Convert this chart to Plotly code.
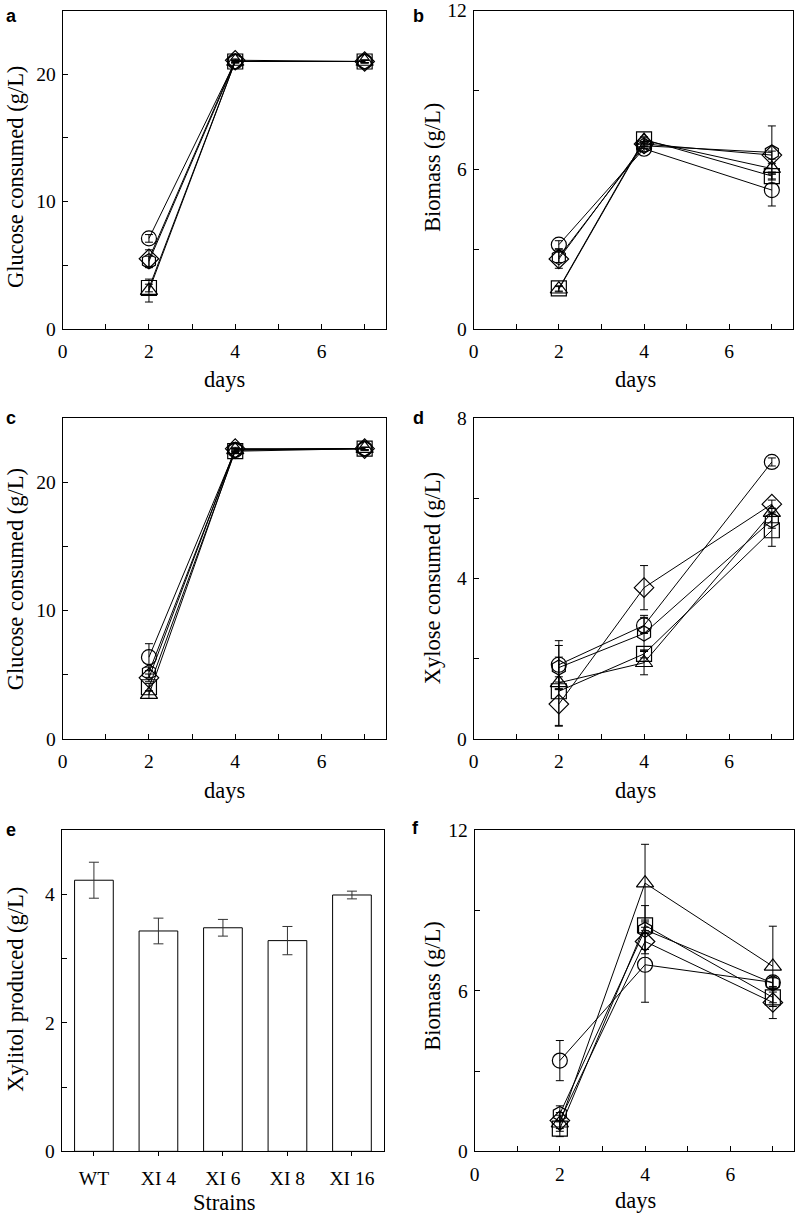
import plotly.graph_objects as go
from plotly.subplots import make_subplots

W, H = 797, 1216
# the photographed page shows content slightly inset/scaled; map reference pixels to page pixels
SX, OX = 0.989, 5.6
SY, OY = 0.982, 9.5

days = [2, 4, 7]
series_names = ["WT", "XI 4", "XI 6", "XI 8", "XI 16"]
symbols = ["circle-open", "hexagon-open", "square-open", "diamond-open", "triangle-up-open"]

# Panel a: glucose consumed (g/L)
a_vals = [[7.1, 21.0, 21.0], [5.3, 21.0, 21.0], [3.2, 21.0, 21.0], [5.5, 21.1, 21.0], [3.0, 21.0, 21.0]]
a_err = [[0.3, 0.1, 0.1], [0.4, 0.1, 0.1], [0.3, 0.1, 0.1], [0.7, 0.1, 0.1], [0.9, 0.1, 0.1]]
# Panel b: biomass (g/L)
b_vals = [[3.17, 6.79, 5.23], [2.70, 6.90, 6.65], [1.52, 7.14, 5.76], [2.63, 6.97, 6.55], [1.49, 7.10, 6.04]]
b_err = [[0.15, 0.1, 0.6], [0.2, 0.1, 1.0], [0.1, 0.1, 0.15], [0.35, 0.1, 0.15], [0.1, 0.1, 0.2]]
# Panel c: glucose consumed (g/L)
c_vals = [[6.37, 22.5, 22.6], [5.2, 22.5, 22.6], [4.03, 22.4, 22.6], [4.76, 22.6, 22.6], [3.46, 22.5, 22.6]]
c_err = [[1.05, 0.1, 0.1], [0.4, 0.1, 0.1], [0.3, 0.1, 0.1], [0.3, 0.1, 0.1], [0.3, 0.1, 0.1]]
# Panel d: xylose consumed (g/L)
d_vals = [[1.85, 2.83, 6.90], [1.78, 2.63, 5.45], [1.19, 2.12, 5.20], [0.87, 3.77, 5.85], [1.40, 1.90, 5.64]]
d_err = [[0.6, 0.2, 0.1], [0.55, 0.45, 0.2], [0.85, 0.1, 0.4], [0.55, 0.55, 0.1], [0.15, 0.3, 0.1]]
# Panel e: xylitol produced (g/L)
strains = ["WT", "XI 4", "XI 6", "XI 8", "XI 16"]
e_vals = [4.22, 3.43, 3.48, 3.28, 3.99]
e_err = [0.28, 0.20, 0.13, 0.22, 0.06]
# Panel f: biomass (g/L)
f_vals = [[3.39, 6.97, 6.31], [1.40, 8.28, 6.28], [0.85, 8.44, 5.75], [1.15, 7.84, 5.56], [1.05, 10.02, 6.91]]
f_err = [[0.75, 1.4, 0.2], [0.3, 0.9, 0.2], [0.3, 0.2, 0.2], [0.3, 0.3, 0.6], [0.3, 1.45, 1.5]]

# plot boxes in reference pixels [x0, x1, y_top, y_bottom]
boxes = [
    (63, 385, 7, 328), (472, 790, 7, 328),
    (63, 385, 417, 738), (472, 790, 417, 738),
    (62, 383, 829, 1150), (473, 791, 829, 1150),
]

def clamp(v, lo=0.0, hi=1.0):
    return max(lo, min(hi, v))

def px(x):
    return clamp(((x - OX) / SX) / W)

def py(y):
    return clamp(1 - ((y - OY) / SY) / H, 0.0, 0.9995)

fig = make_subplots(rows=3, cols=2)

serif = "Liberation Serif"
line_panels = [(a_vals, a_err, 1, 1), (b_vals, b_err, 1, 2), (c_vals, c_err, 2, 1),
               (d_vals, d_err, 2, 2), (f_vals, f_err, 3, 2)]
for vals, errs, r, c in line_panels:
    for name, sym, v, e in zip(series_names, symbols, vals, errs):
        fig.add_trace(go.Scatter(
            x=days, y=v, name=name, mode="lines+markers",
            line=dict(color="black", width=1),
            marker=dict(symbol=sym, size=15, color="black", line=dict(width=1.2, color="black")),
            error_y=dict(type="data", array=e, visible=True, color="black", thickness=1, width=4),
            showlegend=False), row=r, col=c)

fig.add_trace(go.Bar(
    x=strains, y=e_vals, width=0.6,
    marker=dict(color="white", line=dict(color="black", width=1)),
    error_y=dict(type="data", array=e_err, visible=True, color="#333", thickness=1, width=5),
    showlegend=False), row=3, col=1)

axis_common = dict(showline=True, linecolor="black", linewidth=1, mirror=True,
                   showgrid=False, zeroline=False,
                   tickfont=dict(family=serif, size=19.5, color="black"))

yranges = [(0, 25, 10, 5), (0, 12, 6, 3), (0, 25, 10, 5), (0, 8, 4, 2), (0, 5, 2, 1), (0, 12, 6, 3)]
for i, b in enumerate(boxes):
    n = "" if i == 0 else str(i + 1)
    y0, y1, dt, mdt = yranges[i]
    fig.layout["xaxis" + n].update(domain=[px(b[0]), px(b[1])], **axis_common)
    fig.layout["yaxis" + n].update(domain=[py(b[3]), py(b[2])], range=[y0, y1], dtick=dt, tick0=0,
                                   ticks="inside", ticklen=5, tickcolor="black",
                                   ticklabelstandoff=2,
                                   minor=dict(dtick=mdt, ticks="inside", ticklen=5, tickcolor="black"),
                                   **axis_common)
    if i != 4:
        fig.layout["xaxis" + n].update(range=[0, 7.5], dtick=2, tick0=0, ticks="inside", ticklen=5,
                                       tickcolor="black", ticklabelstandoff=5,
                                       minor=dict(dtick=1, ticks="inside", ticklen=5, tickcolor="black"))
    else:
        fig.layout["xaxis" + n].update(range=[-0.5, 4.5], ticks="outside", ticklen=4,
                                       tickcolor="black", ticklabelstandoff=5)

ann = []
letters = [("a", 12, 15), ("b", 417, 15), ("c", 12, 417), ("d", 417, 417), ("e", 12, 829), ("f", 414, 827)]
for t, x, y in letters:
    ann.append(dict(text="<b>%s</b>" % t, x=px(x), y=py(y), xref="paper", yref="paper",
                    showarrow=False, font=dict(family="Liberation Sans", size=18, color="black"),
                    xanchor="center", yanchor="middle"))

ytitles = [("Glucose consumed (g/L)", 16, 176), ("Biomass (g/L)", 431, 167),
           ("Glucose consumed (g/L)", 16, 578), ("Xylose consumed (g/L)", 431, 577),
           ("Xylitol produced (g/L)", 16, 988), ("Biomass (g/L)", 431, 985)]
for t, x, y in ytitles:
    ann.append(dict(text=t, x=px(x), y=py(y), xref="paper", yref="paper", showarrow=False,
                    textangle=-90, font=dict(family=serif, size=22.5, color="black"),
                    xanchor="center", yanchor="middle"))

xtitles = [("days", 224, 379), ("days", 633, 379), ("days", 224, 789), ("days", 633, 789),
           ("Strains", 224, 1201), ("days", 633, 1199)]
for t, x, y in xtitles:
    ann.append(dict(text=t, x=px(x), y=py(y), xref="paper", yref="paper", showarrow=False,
                    font=dict(family=serif, size=22.5, color="black"),
                    xanchor="center", yanchor="middle"))

fig.update_layout(width=W, height=H, margin=dict(l=0, r=0, t=0, b=0),
                  paper_bgcolor="white", plot_bgcolor="white", annotations=ann,
                  font=dict(family=serif, color="black"))

fig.write_html("out.html", config={"displayModeBar": False},
               post_script="document.body.style.margin='0px';")
